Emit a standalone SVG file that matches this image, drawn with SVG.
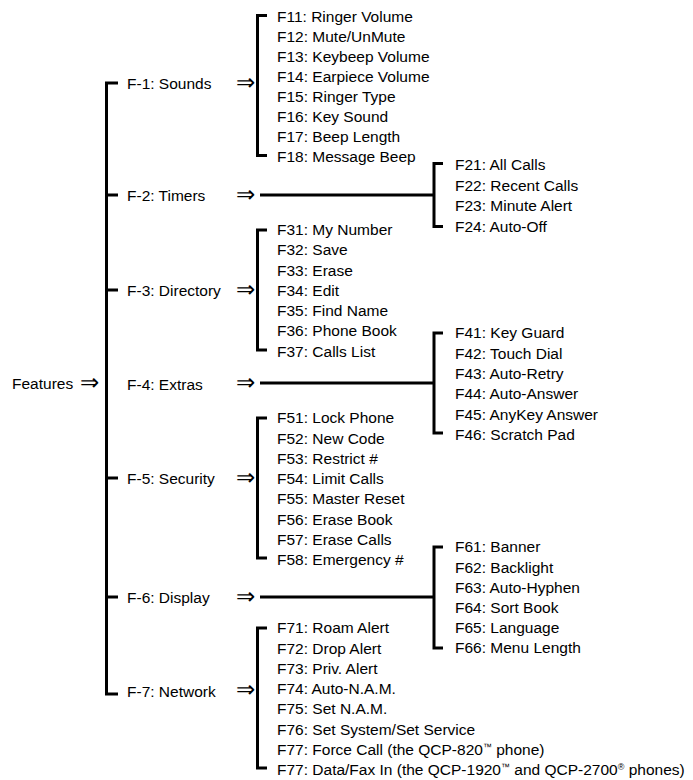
<svg xmlns="http://www.w3.org/2000/svg" width="693" height="780" viewBox="0 0 693 780">
<style>
text{font-family:"Liberation Sans","DejaVu Sans",sans-serif;font-size:15.5px;fill:#000}
.ar{font-family:"DejaVu Sans",sans-serif;font-size:23px;font-weight:200;text-anchor:end}
.ln{fill:none;stroke:#000;stroke-width:3;stroke-linejoin:miter;stroke-linecap:butt}
.sup{font-size:9px}
</style>
<rect width="693" height="780" fill="#fff"/>
<g id="connectors" class="ln">
<path d="M118,83 H106.5 V694 H118"/>
<path d="M106.5,195 H118 M106.5,290 H118 M106.5,478 H118 M106.5,597 H118"/>
<path d="M267,15.5 H257.5 V155.5 H267"/>
<path d="M260,195 H434"/>
<path d="M443,163.5 H434 V226.5 H443"/>
<path d="M267,230 H257.5 V350 H267"/>
<path d="M260,383 H434"/>
<path d="M443,333 H434 V433 H443"/>
<path d="M267,418 H257.5 V558 H267"/>
<path d="M260,597 H434"/>
<path d="M443,547 H434 V648 H443"/>
<path d="M267,628 H257.5 V768 H267"/>
</g>
<g id="features"><text x="12" y="389">Features</text><text class="ar" x="99" y="390">⇒</text></g>
<g id="f1"><text x="127" y="89.3">F-1: Sounds</text><text class="ar" x="255" y="90">⇒</text></g>
<g id="f1-items">
<text x="277" y="21.5">F11: Ringer Volume</text>
<text x="277" y="41.5">F12: Mute/UnMute</text>
<text x="277" y="61.5">F13: Keybeep Volume</text>
<text x="277" y="81.5">F14: Earpiece Volume</text>
<text x="277" y="101.5">F15: Ringer Type</text>
<text x="277" y="121.5">F16: Key Sound</text>
<text x="277" y="141.5">F17: Beep Length</text>
<text x="277" y="161.5">F18: Message Beep</text>
</g>
<g id="f2"><text x="127" y="201">F-2: Timers</text><text class="ar" x="255" y="202">⇒</text></g>
<g id="f2-items">
<text x="455" y="170.3">F21: All Calls</text>
<text x="455" y="190.7">F22: Recent Calls</text>
<text x="455" y="211.1">F23: Minute Alert</text>
<text x="455" y="231.5">F24: Auto-Off</text>
</g>
<g id="f3"><text x="127" y="296">F-3: Directory</text><text class="ar" x="255" y="297">⇒</text></g>
<g id="f3-items">
<text x="277" y="235">F31: My Number</text>
<text x="277" y="255.25">F32: Save</text>
<text x="277" y="275.5">F33: Erase</text>
<text x="277" y="295.75">F34: Edit</text>
<text x="277" y="316">F35: Find Name</text>
<text x="277" y="336.25">F36: Phone Book</text>
<text x="277" y="356.5">F37: Calls List</text>
</g>
<g id="f4"><text x="127" y="389.5">F-4: Extras</text><text class="ar" x="255" y="390">⇒</text></g>
<g id="f4-items">
<text x="455" y="338.3">F41: Key Guard</text>
<text x="455" y="358.6">F42: Touch Dial</text>
<text x="455" y="378.9">F43: Auto-Retry</text>
<text x="455" y="399.2">F44: Auto-Answer</text>
<text x="455" y="419.5">F45: AnyKey Answer</text>
<text x="455" y="439.8">F46: Scratch Pad</text>
</g>
<g id="f5"><text x="127" y="484">F-5: Security</text><text class="ar" x="255" y="485">⇒</text></g>
<g id="f5-items">
<text x="277" y="423.3">F51: Lock Phone</text>
<text x="277" y="443.5">F52: New Code</text>
<text x="277" y="463.8">F53: Restrict #</text>
<text x="277" y="484">F54: Limit Calls</text>
<text x="277" y="504.3">F55: Master Reset</text>
<text x="277" y="524.5">F56: Erase Book</text>
<text x="277" y="544.8">F57: Erase Calls</text>
<text x="277" y="565">F58: Emergency #</text>
</g>
<g id="f6"><text x="127" y="603">F-6: Display</text><text class="ar" x="255" y="604">⇒</text></g>
<g id="f6-items">
<text x="455" y="552.3">F61: Banner</text>
<text x="455" y="572.5">F62: Backlight</text>
<text x="455" y="592.7">F63: Auto-Hyphen</text>
<text x="455" y="612.9">F64: Sort Book</text>
<text x="455" y="633.1">F65: Language</text>
<text x="455" y="653.3">F66: Menu Length</text>
</g>
<g id="f7"><text x="127" y="696.5">F-7: Network</text><text class="ar" x="255" y="697">⇒</text></g>
<g id="f7-items">
<text x="277" y="633.3">F71: Roam Alert</text>
<text x="277" y="653.5">F72: Drop Alert</text>
<text x="277" y="673.8">F73: Priv. Alert</text>
<text x="277" y="694">F74: Auto-N.A.M.</text>
<text x="277" y="714.3">F75: Set N.A.M.</text>
<text x="277" y="734.5">F76: Set System/Set Service</text>
<text x="277" y="754.8">F77: Force Call (the QCP-820<tspan class="sup" dy="-5">™</tspan><tspan dy="5"> phone)</tspan></text>
<text x="277" y="775">F77: Data/Fax In (the QCP-1920<tspan class="sup" dy="-5">™</tspan><tspan dy="5"> and QCP-2700</tspan><tspan class="sup" dy="-5">®</tspan><tspan dy="5"> phones)</tspan></text>
</g>
</svg>
